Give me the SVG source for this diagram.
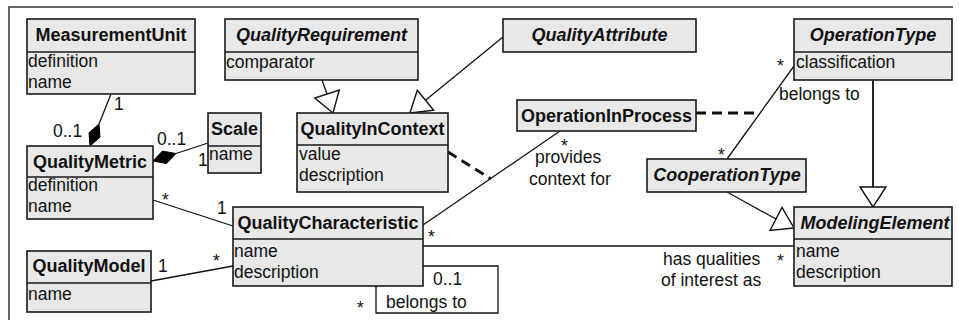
<svg xmlns="http://www.w3.org/2000/svg" width="959" height="320" viewBox="0 0 959 320">
  <style>
    .box { fill: #e8e8e8; stroke: #1a1a1a; stroke-width: 1.6; }
    .div { stroke: #1a1a1a; stroke-width: 1.4; }
    .hd { font-family: "Liberation Sans", Arial, sans-serif; font-size: 18px; font-weight: bold; fill: #111; text-anchor: middle; }
    .it { font-style: italic; }
    .at { font-family: "Liberation Sans", Arial, sans-serif; font-size: 17.5px; fill: #111; }
    .lb { font-family: "Liberation Sans", Arial, sans-serif; font-size: 17.5px; fill: #111; }
    .ln { fill: none; stroke: #111; stroke-width: 1.3; }
    .thick { fill: none; stroke: #222; stroke-width: 2; }
    .dash { fill: none; stroke: #111; stroke-width: 3; stroke-dasharray: 10 6; }
    .tri { fill: #fff; stroke: #111; stroke-width: 1.4; stroke-linejoin: miter; }
    .dia { fill: #000; stroke: #000; stroke-width: 1; }
    .frame { fill: none; stroke: #333; stroke-width: 1.5; }
  </style>

  <!-- diagram frame -->
  <path class="frame" d="M9,320 V7 H953"/>

  <!-- connectors -->
  <g id="connectors">
    <!-- MeasurementUnit composition into QualityMetric -->
    <line class="ln" x1="111" y1="94" x2="99" y2="124"/>
    <polygon class="dia" points="90,146 100,137.2 99,124 89,132.7"/>
    <!-- Scale composition into QualityMetric -->
    <line class="ln" x1="176" y1="153.5" x2="208" y2="143"/>
    <polygon class="dia" points="153,161 166.4,163.5 176,153.5 162.4,151.1"/>
    <!-- QualityMetric - QualityCharacteristic -->
    <line class="ln" x1="153" y1="200" x2="233" y2="226"/>
    <!-- QualityModel - QualityCharacteristic -->
    <line class="ln" x1="151" y1="281" x2="233" y2="266"/>
    <!-- QualityCharacteristic self association -->
    <path class="ln" d="M423,266 H498 V313 H376 V286"/>
    <!-- QualityCharacteristic - ModelingElement -->
    <line class="ln" x1="423" y1="246" x2="794" y2="246"/>
    <!-- QualityCharacteristic - OperationInProcess -->
    <line class="ln" x1="423" y1="225" x2="560" y2="131"/>
    <!-- association class links -->
    <line class="dash" x1="448" y1="152" x2="491" y2="179"/>
    <line class="dash" x1="696" y1="113" x2="760" y2="113"/>
    <!-- OperationType - CooperationType -->
    <line class="ln" x1="794" y1="66" x2="727" y2="159"/>
    <!-- generalizations -->
    <line class="thick" x1="873" y1="80" x2="873" y2="187"/>
    <polygon class="tri" points="860,187 886,187 873,207"/>
    <line class="ln" x1="727" y1="192" x2="776" y2="219"/>
    <polygon class="tri" points="794,228 770,230.5 782,207.5"/>
    <line class="ln" x1="322" y1="80" x2="327" y2="94"/>
    <polygon class="tri" points="333,113 314.7,98 339.3,90"/>
    <line class="ln" x1="503" y1="37" x2="425.5" y2="100.3"/>
    <polygon class="tri" points="410,113 433.7,110.3 417.3,90.3"/>

    <!-- multiplicities and role labels -->
    <text class="lb" x="114" y="110">1</text>
    <text class="lb" x="53" y="137">0..1</text>
    <text class="lb" x="157" y="145">0..1</text>
    <text class="lb" x="198" y="166">1</text>
    <text class="lb" x="162" y="206">*</text>
    <text class="lb" x="217" y="214">1</text>
    <text class="lb" x="158" y="272">1</text>
    <text class="lb" x="213" y="267">*</text>
    <text class="lb" x="428" y="243">*</text>
    <text class="lb" x="433" y="285">0..1</text>
    <text class="lb" x="386" y="308">belongs to</text>
    <text class="lb" x="357" y="314">*</text>
    <text class="lb" x="561" y="152">*</text>
    <text class="lb" x="535" y="163">provides</text>
    <text class="lb" x="529" y="185">context for</text>
    <text class="lb" x="777" y="72">*</text>
    <text class="lb" x="779" y="100">belongs to</text>
    <text class="lb" x="718" y="161">*</text>
    <text class="lb" x="663" y="265">has qualities</text>
    <text class="lb" x="661" y="286">of interest as</text>
    <text class="lb" x="777" y="267">*</text>
  </g>

  <!-- classes -->
  <g id="MeasurementUnit">
    <rect class="box" x="27" y="19" width="168" height="75"/>
    <line class="div" x1="27" y1="52" x2="195" y2="52"/>
    <text class="hd" x="111" y="41">MeasurementUnit</text>
    <text class="at" x="28" y="67">definition</text>
    <text class="at" x="28" y="88">name</text>
  </g>

  <g id="QualityRequirement">
    <rect class="box" x="225" y="19" width="193" height="61"/>
    <line class="div" x1="225" y1="52" x2="418" y2="52"/>
    <text class="hd it" x="321.5" y="41">QualityRequirement</text>
    <text class="at" x="226" y="68">comparator</text>
  </g>

  <g id="QualityAttribute">
    <rect class="box" x="503" y="19" width="193" height="33"/>
    <text class="hd it" x="599.5" y="41">QualityAttribute</text>
  </g>

  <g id="OperationType">
    <rect class="box" x="794" y="19" width="158" height="61"/>
    <line class="div" x1="794" y1="52" x2="952" y2="52"/>
    <text class="hd it" x="873" y="41">OperationType</text>
    <text class="at" x="796" y="68">classification</text>
  </g>

  <g id="Scale">
    <rect class="box" x="208" y="113" width="53" height="60"/>
    <line class="div" x1="208" y1="146" x2="261" y2="146"/>
    <text class="hd" x="234.5" y="135">Scale</text>
    <text class="at" x="209" y="160">name</text>
  </g>

  <g id="QualityInContext">
    <rect class="box" x="297" y="113" width="151" height="79"/>
    <line class="div" x1="297" y1="145" x2="448" y2="145"/>
    <text class="hd" x="372.5" y="135">QualityInContext</text>
    <text class="at" x="299" y="160">value</text>
    <text class="at" x="299" y="181">description</text>
  </g>

  <g id="OperationInProcess">
    <rect class="box" x="517" y="100" width="179" height="31"/>
    <text class="hd" x="606.5" y="122">OperationInProcess</text>
  </g>

  <g id="QualityMetric">
    <rect class="box" x="27" y="146" width="126" height="73"/>
    <line class="div" x1="27" y1="177" x2="153" y2="177"/>
    <text class="hd" x="90" y="168">QualityMetric</text>
    <text class="at" x="28" y="191">definition</text>
    <text class="at" x="28" y="212">name</text>
  </g>

  <g id="CooperationType">
    <rect class="box" x="647" y="159" width="159" height="33"/>
    <text class="hd it" x="727" y="181">CooperationType</text>
  </g>

  <g id="QualityCharacteristic">
    <rect class="box" x="233" y="207" width="190" height="79"/>
    <line class="div" x1="233" y1="239" x2="423" y2="239"/>
    <text class="hd" x="328" y="229">QualityCharacteristic</text>
    <text class="at" x="234" y="257">name</text>
    <text class="at" x="234" y="278">description</text>
  </g>

  <g id="ModelingElement">
    <rect class="box" x="794" y="207" width="158" height="79"/>
    <line class="div" x1="794" y1="239" x2="952" y2="239"/>
    <text class="hd it" x="875" y="229">ModelingElement</text>
    <text class="at" x="796" y="257">name</text>
    <text class="at" x="796" y="278">description</text>
  </g>

  <g id="QualityModel">
    <rect class="box" x="27" y="251" width="124" height="61"/>
    <line class="div" x1="27" y1="283" x2="151" y2="283"/>
    <text class="hd" x="89" y="272">QualityModel</text>
    <text class="at" x="28" y="300">name</text>
  </g>
</svg>
